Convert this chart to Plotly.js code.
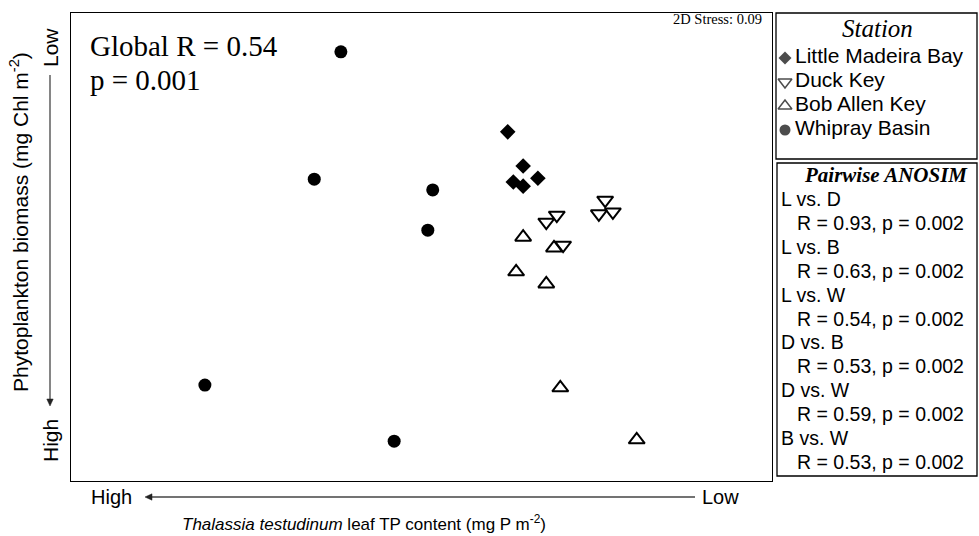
<!DOCTYPE html>
<html>
<head>
<meta charset="utf-8">
<script src="https://cdn.plot.ly/plotly-3.0.1.min.js"></script>
<style>html,body{margin:0;padding:0;background:#fff;}#chart{width:979px;height:536px;}</style>
</head>
<body>
<div id="chart"></div>
<script>
// ---- data (NMDS ordination; arbitrary units) ----
var stations = ['Little Madeira Bay', 'Duck Key', 'Bob Allen Key', 'Whipray Basin'];
var lmbX = [6.23, 6.45, 6.66, 6.31, 6.45];
var lmbY = [7.46, 6.73, 6.47, 6.39, 6.30];
var dkX  = [7.62, 7.53, 7.73, 6.93, 6.78, 7.02];
var dkY  = [6.00, 5.71, 5.75, 5.68, 5.53, 5.04];
var bakX = [6.45, 6.89, 6.35, 6.78, 6.98, 8.07];
var bakY = [5.21, 4.98, 4.47, 4.21, 1.99, 0.88];
var wbX  = [3.85, 3.47, 5.16, 5.09, 1.91, 4.61];
var wbY  = [9.17, 6.45, 6.22, 5.36, 2.05, 0.85];

var globalR = 0.54, globalP = '0.001', stress = '0.09';
var pairs  = ['L vs. D', 'L vs. B', 'L vs. W', 'D vs. B', 'D vs. W', 'B vs. W'];
var pairR  = ['0.93', '0.63', '0.54', '0.53', '0.59', '0.53'];
var pairP  = ['0.002', '0.002', '0.002', '0.002', '0.002', '0.002'];

// ---- styling ----
var W = 979, H = 536;
function px(x) { return x / W; }
function py(y) { return 1 - y / H; }
var SANS = 'Liberation Sans, Arial, sans-serif';
var SERIF = 'Liberation Serif, Times New Roman, serif';

var symbols = ['diamond', 'triangle-down-open', 'triangle-up-open', 'circle'];
var sizes = [12, 14, 14, 13];
var legSizes = [10, 12, 12, 11];
var xs = [lmbX, dkX, bakX, wbX];
var ys = [lmbY, dkY, bakY, wbY];

var traces = stations.map(function (s, i) {
  return {
    type: 'scatter', mode: 'markers', name: s, x: xs[i], y: ys[i],
    xaxis: 'x', yaxis: 'y', showlegend: false, hoverinfo: 'name',
    marker: { symbol: symbols[i], size: sizes[i], color: 'black',
      line: { color: 'black', width: (i === 1 || i === 2) ? 2 : 0 } }
  };
});
// legend panel drawn as its own small axes
var legIdx = stations.map(function (s, i) { return i; });
traces.push({
  type: 'scatter', mode: 'markers', x: stations.map(function () { return 0; }), y: legIdx,
  xaxis: 'x2', yaxis: 'y2', showlegend: false, hoverinfo: 'skip',
  marker: { symbol: symbols, size: legSizes, color: 'black', line: { color: 'black', width: [0, 1.5, 1.5, 0] } }
});
traces.push({
  type: 'scatter', mode: 'text', x: stations.map(function () { return 10; }), y: legIdx, text: stations,
  textposition: 'middle right', xaxis: 'x2', yaxis: 'y2', showlegend: false, hoverinfo: 'skip',
  textfont: { family: SANS, size: 21, color: 'black' }
});

var ann = [];
function addText(t, x, y, opts) {
  var a = { text: t, x: px(x), y: py(y), xref: 'paper', yref: 'paper', showarrow: false,
    font: { family: SANS, size: 21, color: 'black' }, xanchor: 'center', yanchor: 'middle' };
  for (var k in opts) a[k] = opts[k];
  ann.push(a);
}
addText('Global R = ' + globalR.toFixed(2), 88, 46, { xanchor: 'left', font: { family: SERIF, size: 29, color: 'black' } });
addText('p = ' + globalP, 88, 80, { xanchor: 'left', font: { family: SERIF, size: 29, color: 'black' } });
addText('2D Stress: ' + stress, 764, 19, { xanchor: 'right', font: { family: SERIF, size: 14.5, color: 'black' } });
addText('Low', 50, 48, { textangle: -90 });
addText('High', 50, 441, { textangle: -90 });
addText('High', 111, 497, { font: { family: SANS, size: 20, color: 'black' } });
addText('Low', 720, 497, { font: { family: SANS, size: 20, color: 'black' } });
addText('Phytoplankton biomass (mg Chl m<sup>-2</sup>)', 19, 222, { textangle: -90, font: { family: SANS, size: 21, color: 'black' } });
addText('<i>Thalassia testudinum</i> leaf TP content (mg P m<sup>-2</sup>)', 364, 523, { font: { family: SANS, size: 17, color: 'black' } });
addText('<i>Station</i>', 877, 28, { font: { family: SERIF, size: 25, color: 'black' } });
addText('<b><i>Pairwise ANOSIM</i></b>', 886, 175, { font: { family: SERIF, size: 21, color: 'black' } });
pairs.forEach(function (p, i) {
  var y0 = 199 + i * 47.8;
  addText(p, 779, y0, { xanchor: 'left', font: { family: SANS, size: 19.5, color: 'black' } });
  addText('R = ' + pairR[i] + ', p = ' + pairP[i], 795, y0 + 24, { xanchor: 'left', font: { family: SANS, size: 19.5, color: 'black' } });
});

// axis direction arrows (decoration, paper coordinates)
function arrowShapes(x0, y0, x1, y1) { // head at (x1,y1)
  var dx = x1 - x0, dy = y1 - y0, L = Math.sqrt(dx * dx + dy * dy), ux = dx / L, uy = dy / L;
  var hl = 7, hw = 3.2;
  var bx = x1 - ux * hl, by = y1 - uy * hl;
  var p1 = [bx - uy * hw, by + ux * hw], p2 = [bx + uy * hw, by - ux * hw];
  return [
    { type: 'line', xref: 'paper', yref: 'paper', x0: px(x0), y0: py(y0), x1: px(bx), y1: py(by),
      line: { color: '#444', width: 1.3 } },
    { type: 'path', xref: 'paper', yref: 'paper', fillcolor: '#222', line: { color: '#222', width: 0.5 },
      path: 'M' + px(x1) + ',' + py(y1) + ' L' + px(p1[0]) + ',' + py(p1[1]) + ' L' + px(p2[0]) + ',' + py(p2[1]) + ' Z' }
  ];
}

var shapes = [
  { type: 'rect', xref: 'x2 domain', yref: 'y2 domain', x0: 0, x1: 1, y0: 0, y1: 1,
    line: { color: 'black', width: 1.3 } },
  { type: 'rect', xref: 'paper', yref: 'paper', x0: px(777), x1: px(977), y0: py(476), y1: py(163),
    line: { color: 'black', width: 1.3 } }
].concat(arrowShapes(695, 497, 145, 497)).concat(arrowShapes(50, 75, 50, 406));

var layout = {
  width: W, height: H, margin: { l: 0, r: 0, t: 0, b: 0 },
  paper_bgcolor: 'white', plot_bgcolor: 'white', showlegend: false,
  xaxis: { domain: [px(71), px(772)], range: [0, 10], showgrid: false, zeroline: false,
    showticklabels: false, ticks: '', showline: true, mirror: true, linecolor: 'black', linewidth: 1.3, fixedrange: true },
  yaxis: { domain: [py(481), py(13)], range: [0, 10], showgrid: false, zeroline: false,
    showticklabels: false, ticks: '', showline: true, mirror: true, linecolor: 'black', linewidth: 1.3, fixedrange: true },
  xaxis2: { domain: [px(776), px(977)], range: [-9, 192], visible: false, fixedrange: true, anchor: 'y2' },
  yaxis2: { domain: [py(159), py(13)], range: [4.208, -1.875], visible: false, fixedrange: true, anchor: 'x2' },
  shapes: shapes,
  annotations: ann
};

Plotly.newPlot('chart', traces, layout, { displayModeBar: false, staticPlot: true });
</script>
</body>
</html>
